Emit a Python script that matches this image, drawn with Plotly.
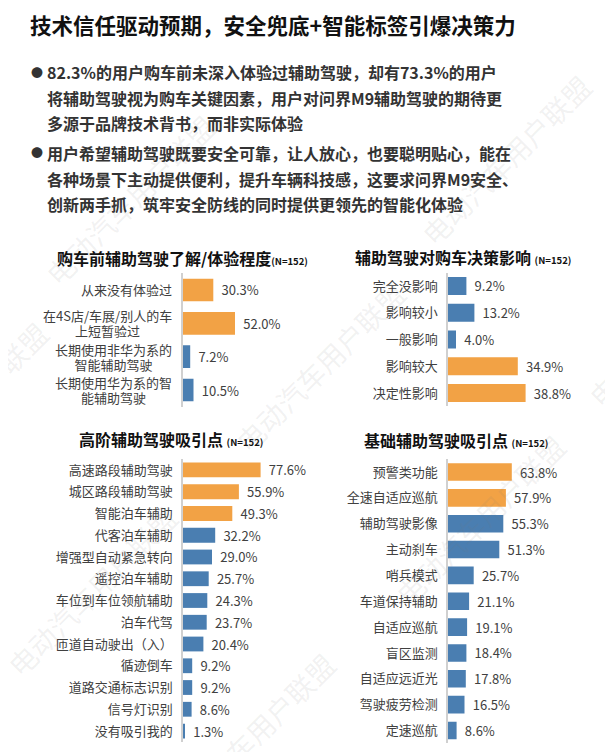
import plotly.graph_objects as go

# browser window and the 8px default page margin around the plot div
WIN_W, WIN_H = 613, 752
OFF = 8
W, H = WIN_W - OFF, WIN_H - OFF
FONT = "Noto Sans CJK SC"
ORANGE = "#F2A245"
BLUE = "#4A7EB1"
TEXT = "#404040"

# ---- data ----
title = "技术信任驱动预期，安全兜底+智能标签引爆决策力"

bullets = [
    ["82.3%的用户购车前未深入体验过辅助驾驶，却有73.3%的用户",
     "将辅助驾驶视为购车关键因素，用户对问界M9辅助驾驶的期待更",
     "多源于品牌技术背书，而非实际体验"],
    ["用户希望辅助驾驶既要安全可靠，让人放心，也要聪明贴心，能在",
     "各种场景下主动提供便利，提升车辆科技感，这要求问界M9安全、",
     "创新两手抓，筑牢安全防线的同时提供更领先的智能化体验"],
]

p1_title = "购车前辅助驾驶了解/体验程度"
p1_labels = ["从来没有体验过", "在4S店/车展/别人的车<br>上短暂验过",
             "长期使用非华为系的<br>智能辅助驾驶", "长期使用华为系的智<br>能辅助驾驶"]
p1_values = [30.3, 52.0, 7.2, 10.5]
p1_hot = [0, 1]

p2_title = "辅助驾驶对购车决策影响"
p2_labels = ["完全没影响", "影响较小", "一般影响", "影响较大", "决定性影响"]
p2_values = [9.2, 13.2, 4.0, 34.9, 38.8]
p2_hot = [3, 4]

p3_title = "高阶辅助驾驶吸引点"
p3_labels = ["高速路段辅助驾驶", "城区路段辅助驾驶", "智能泊车辅助", "代客泊车辅助",
             "增强型自动紧急转向", "遥控泊车辅助", "车位到车位领航辅助", "泊车代驾",
             "匝道自动驶出（入）", "循迹倒车", "道路交通标志识别", "信号灯识别", "没有吸引我的"]
p3_values = [77.6, 55.9, 49.3, 32.2, 29.0, 25.7, 24.3, 23.7, 20.4, 9.2, 9.2, 8.6, 1.3]
p3_hot = [0, 1, 2]

p4_title = "基础辅助驾驶吸引点"
p4_labels = ["预警类功能", "全速自适应巡航", "辅助驾驶影像", "主动刹车", "哨兵模式",
             "车道保持辅助", "自适应巡航", "盲区监测", "自适应远近光", "驾驶疲劳检测", "定速巡航"]
p4_values = [63.8, 57.9, 55.3, 51.3, 25.7, 21.1, 19.1, 18.4, 17.8, 16.5, 8.6]
p4_hot = [0, 1]

sample_note = "(N=152)"
watermark = "电动汽车用户联盟"


def px(x):
    return (x - OFF) / W


def py(y):
    return 1 - (y - OFF) / H


# layout of each panel in window pixels: axis left, axis right, top, bottom; title pos
panels = [
    (p1_title, p1_labels, p1_values, p1_hot, 100, (183, 283, 273.3, 406.7), (55, 258), ""),
    (p2_title, p2_labels, p2_values, p2_hot, 50, (448, 548, 272.6, 406.4), (353, 257), " "),
    (p3_title, p3_labels, p3_values, p3_hot, 100, (183, 283, 459.1, 741.9), (77, 439), " "),
    (p4_title, p4_labels, p4_values, p4_hot, 100, (448, 548, 459.1, 743.4), (362, 440), " "),
]

fig = go.Figure()
annotations = []

for i, (ttl, labels, values, hot, xmax, box, tpos, sep) in enumerate(panels, 1):
    sfx = "" if i == 1 else str(i)
    colors = [ORANGE if k in hot else BLUE for k in range(len(labels))]
    fig.add_trace(go.Bar(
        x=values, y=labels, orientation="h",
        marker=dict(color=colors, line=dict(width=0)),
        texttemplate="\u2009\u2009%{x:.1f}%", textposition="outside",
        textfont=dict(family=FONT, size=13, color=TEXT),
        constraintext="none", cliponaxis=False, hoverinfo="skip",
        xaxis="x" + sfx, yaxis="y" + sfx,
    ))
    left, right, top, bottom = box
    n = len(labels)
    fig.layout["xaxis" + sfx] = dict(
        domain=[px(left), px(right)], range=[0, xmax], visible=False,
        anchor="y" + sfx, fixedrange=True,
    )
    fig.layout["yaxis" + sfx] = dict(
        domain=[py(bottom), py(top)], anchor="x" + sfx, type="category",
        categoryorder="array", categoryarray=labels, range=[n - 0.5, -0.5],
        showline=True, linecolor="#D0D0D0", linewidth=1.5,
        ticks="outside", ticklen=6, tickcolor="rgba(0,0,0,0)",
        showticklabels=(i != 1), tickfont=dict(family=FONT, size=13, color=TEXT),
        showgrid=False, zeroline=False, fixedrange=True,
    )
    annotations.append(dict(
        xref="paper", yref="paper", x=px(tpos[0]), y=py(tpos[1]),
        xanchor="left", yanchor="middle", showarrow=False,
        text=f"<b>{ttl}</b>{sep}<span style='font-size:9.5px'><b>{sample_note}</b></span>",
        font=dict(family=FONT, size=16, color="#111111"),
    ))

# category labels of the first panel: centred lines, 13px glyphs on a tighter line pitch
for lab in p1_labels:
    txt = "<br>".join(f"<span style='font-size:13px'>{s}</span>" for s in lab.split("<br>"))
    annotations.append(dict(
        xref="x domain", yref="y", x=0, y=lab, xanchor="right", xshift=-9,
        align="center", showarrow=False, text=txt,
        font=dict(family=FONT, size=11.5, color=TEXT),
    ))

# headline
annotations.append(dict(
    xref="paper", yref="paper", x=px(28), y=py(25), xanchor="left", yanchor="middle",
    showarrow=False, text=f"<b>{title}</b>",
    font=dict(family=FONT, size=21.5, color="#111111"),
))

# bullet text
for lines, y0 in zip(bullets, [72, 153]):
    annotations.append(dict(
        xref="paper", yref="paper", x=px(37), y=py(y0), xanchor="center", yanchor="middle",
        showarrow=False, text="●", font=dict(family=FONT, size=12, color="#333333"),
    ))
    for k, line in enumerate(lines):
        annotations.append(dict(
            xref="paper", yref="paper", x=px(44.5), y=py(y0 + k * 25.7),
            xanchor="left", yanchor="middle", showarrow=False,
            text=f"<b>{line}</b>", font=dict(family=FONT, size=16, color="#333333"),
        ))

# faint diagonal watermark
for cx, cy in [(-37, 407), (130, 200), (92, 591), (320, 367), (506, 160),
               (250, 738), (480, 520), (673, 322)]:
    annotations.append(dict(
        xref="paper", yref="paper", x=px(cx), y=py(cy), xanchor="center", yanchor="middle",
        showarrow=False, text=watermark, textangle=-45,
        font=dict(family=FONT, size=28, color="rgba(120,120,120,0.10)"),
    ))

fig.update_layout(
    width=W, height=H, autosize=False,
    margin=dict(l=0, r=0, t=0, b=0),
    paper_bgcolor="white", plot_bgcolor="white",
    showlegend=False, bargap=0.32,
    annotations=annotations,
)

fig.write_html("out.html", config={"displayModeBar": False})
